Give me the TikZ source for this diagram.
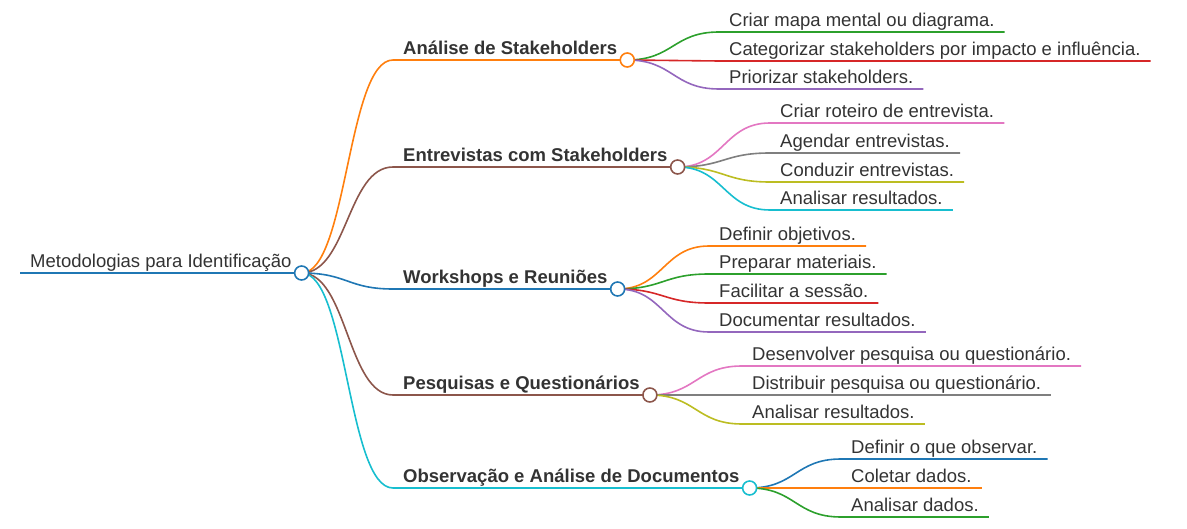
\documentclass[tikz,border=0pt]{standalone}
\usepackage{fontspec}
\setmainfont{Liberation Sans}
\usetikzlibrary{calc}

\definecolor{txt}{HTML}{333333}
\definecolor{mmblue}{HTML}{1F77B4}
\definecolor{mmorange}{HTML}{FF7F0E}
\definecolor{mmgreen}{HTML}{2CA02C}
\definecolor{mmred}{HTML}{D62728}
\definecolor{mmpurple}{HTML}{9467BD}
\definecolor{mmbrown}{HTML}{8C564B}
\definecolor{mmpink}{HTML}{E377C2}
\definecolor{mmgray}{HTML}{7F7F7F}
\definecolor{mmolive}{HTML}{BCBD22}
\definecolor{mmcyan}{HTML}{17BECF}

\begin{document}
\begin{tikzpicture}[
    x=1pt, y=-1pt,
    topic/.style={
      anchor=south west,
      inner xsep=10pt,
      inner ysep=0pt,
      text height=14pt,
      text depth=5pt,
      text=txt,
      font=\fontsize{18.5}{22}\selectfont
    },
    branch/.style={topic, font=\fontsize{18.5}{22}\selectfont\bfseries},
    leaf/.style={topic},
    knot/.style={circle, fill=white, line width=1.6pt, minimum size=14pt, inner sep=0pt},
    wire/.style={line width=1.6pt},
    curvy/.style={to path={.. controls ($(\tikztostart)!0.5!(\tikztotarget |- \tikztostart)$)
      and ($(\tikztotarget)!0.5!(\tikztostart |- \tikztotarget)$) .. (\tikztotarget)}}
  ]
    \useasboundingbox (0,0) rectangle (1187,529);

    \node[topic] (root) at (20,273) {Metodologias para Identificação};
    \draw[wire, mmblue] (root.south west) -- (root.south east);

    \node[branch] (ana) at (393,60) {Análise de Stakeholders};
    \node[branch] (ent) at (393,167) {Entrevistas com Stakeholders};
    \node[branch] (wor) at (393,289) {Workshops e Reuniões};
    \node[branch] (pes) at (393,395) {Pesquisas e Questionários};
    \node[branch] (obs) at (393,488) {Observação e Análise de Documentos};

    \draw[wire, mmorange] (root.south east) to[curvy] (ana.south west) -- (ana.south east);
    \draw[wire, mmbrown] (root.south east) to[curvy] (ent.south west) -- (ent.south east);
    \draw[wire, mmblue] (root.south east) to[curvy] (wor.south west) -- (wor.south east);
    \draw[wire, mmbrown] (root.south east) to[curvy] (pes.south west) -- (pes.south east);
    \draw[wire, mmcyan] (root.south east) to[curvy] (obs.south west) -- (obs.south east);

    \node[leaf] (mapa) at (719,32) {Criar mapa mental ou diagrama.};
    \node[leaf] (cate) at (719,61) {Categorizar stakeholders por impacto e influência.};
    \node[leaf] (prio) at (719,89) {Priorizar stakeholders.};
    \draw[wire, mmgreen] (ana.south east) to[curvy] (mapa.south west) -- (mapa.south east);
    \draw[wire, mmred] (ana.south east) to[curvy] (cate.south west) -- (cate.south east);
    \draw[wire, mmpurple] (ana.south east) to[curvy] (prio.south west) -- (prio.south east);

    \node[leaf] (rote) at (770,123) {Criar roteiro de entrevista.};
    \node[leaf] (agen) at (770,153) {Agendar entrevistas.};
    \node[leaf] (cond) at (770,182) {Conduzir entrevistas.};
    \node[leaf] (anae) at (770,210) {Analisar resultados.};
    \draw[wire, mmpink] (ent.south east) to[curvy] (rote.south west) -- (rote.south east);
    \draw[wire, mmgray] (ent.south east) to[curvy] (agen.south west) -- (agen.south east);
    \draw[wire, mmolive] (ent.south east) to[curvy] (cond.south west) -- (cond.south east);
    \draw[wire, mmcyan] (ent.south east) to[curvy] (anae.south west) -- (anae.south east);

    \node[leaf] (obje) at (709,246) {Definir objetivos.};
    \node[leaf] (prep) at (709,274) {Preparar materiais.};
    \node[leaf] (faci) at (709,303) {Facilitar a sessão.};
    \node[leaf] (docu) at (709,332) {Documentar resultados.};
    \draw[wire, mmorange] (wor.south east) to[curvy] (obje.south west) -- (obje.south east);
    \draw[wire, mmgreen] (wor.south east) to[curvy] (prep.south west) -- (prep.south east);
    \draw[wire, mmred] (wor.south east) to[curvy] (faci.south west) -- (faci.south east);
    \draw[wire, mmpurple] (wor.south east) to[curvy] (docu.south west) -- (docu.south east);

    \node[leaf] (dese) at (742,366) {Desenvolver pesquisa ou questionário.};
    \node[leaf] (dist) at (742,395) {Distribuir pesquisa ou questionário.};
    \node[leaf] (anap) at (742,424) {Analisar resultados.};
    \draw[wire, mmpink] (pes.south east) to[curvy] (dese.south west) -- (dese.south east);
    \draw[wire, mmgray] (pes.south east) to[curvy] (dist.south west) -- (dist.south east);
    \draw[wire, mmolive] (pes.south east) to[curvy] (anap.south west) -- (anap.south east);

    \node[leaf] (defi) at (841,459) {Definir o que observar.};
    \node[leaf] (cole) at (841,488) {Coletar dados.};
    \node[leaf] (anad) at (841,517) {Analisar dados.};
    \draw[wire, mmblue] (obs.south east) to[curvy] (defi.south west) -- (defi.south east);
    \draw[wire, mmorange] (obs.south east) to[curvy] (cole.south west) -- (cole.south east);
    \draw[wire, mmgreen] (obs.south east) to[curvy] (anad.south west) -- (anad.south east);

    \node[knot, draw=mmblue] (rootk) at (root.south east) {};
    \node[knot, draw=mmorange] (anak) at (ana.south east) {};
    \node[knot, draw=mmbrown] (entk) at (ent.south east) {};
    \node[knot, draw=mmblue] (work) at (wor.south east) {};
    \node[knot, draw=mmbrown] (pesk) at (pes.south east) {};
    \node[knot, draw=mmcyan] (obsk) at (obs.south east) {};
  \end{tikzpicture}
\end{document}
